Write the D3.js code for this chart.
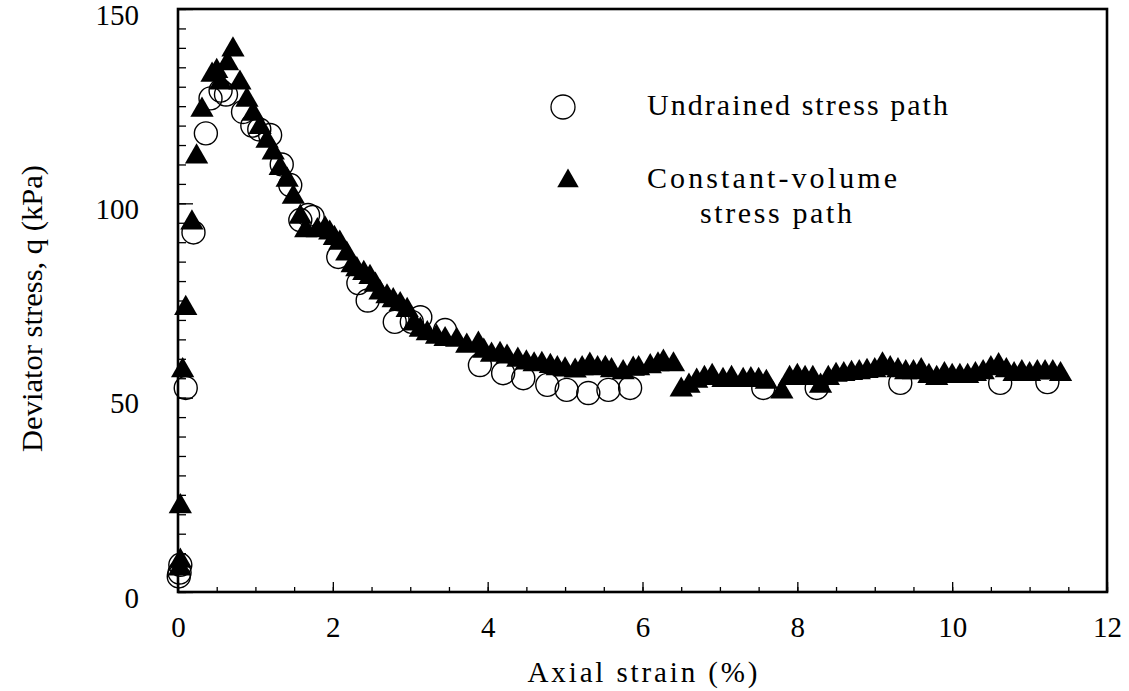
<!DOCTYPE html>
<html>
<head>
<meta charset="utf-8">
<script src="https://cdn.jsdelivr.net/npm/d3@7"></script>
<style>
  html, body { margin: 0; padding: 0; background: #fff; }
  svg { display: block; }
  text { font-family: "Liberation Serif", "Times New Roman", serif; fill: #000; }
</style>
</head>
<body>
<svg id="chart" width="1129" height="691"></svg>
<script>
// Undrained stress path: axial strain (%) and deviator stress q (kPa)
const undrainedStrain = [0.01, 0.02, 0.03, 0.10, 0.20, 0.36, 0.42, 0.55, 0.62, 0.84, 0.96, 1.05, 1.19, 1.34, 1.45,
  1.58, 1.68, 1.74, 2.07, 2.33, 2.45, 2.80, 3.02, 3.13, 3.45, 3.90, 4.20, 4.46, 4.77, 5.02, 5.30, 5.56, 5.84,
  7.56, 8.25, 9.33, 10.62, 11.23];
const undrainedQ = [4, 5, 7, 52.5, 92.5, 118, 127, 129, 128, 123.5, 120, 119, 117.6, 110, 104.7,
  95.7, 97, 96.5, 86.2, 79.5, 75, 69.5, 69.5, 70.7, 67.4, 58.4, 56.3, 55, 53.3, 52, 51.2, 52, 52.5,
  52.5, 52.5, 53.8, 53.8, 54];

// Constant-volume stress path
const constVolStrain = [0.02, 0.03, 0.03, 0.06, 0.10, 0.18, 0.24, 0.31, 0.44, 0.50, 0.55, 0.64, 0.71,
  0.80, 0.89, 0.97, 1.06, 1.15, 1.23, 1.32, 1.41, 1.49, 1.58, 1.65, 1.80, 1.90, 1.96, 2.02, 2.09, 2.18, 2.25,
  2.31, 2.40, 2.48, 2.55, 2.61, 2.70, 2.78, 2.87, 2.96, 3.05, 3.13, 3.22, 3.34, 3.45, 3.60, 3.73, 3.88, 3.95,
  4.05, 4.16, 4.25, 4.39, 4.50, 4.60, 4.70, 4.81, 4.90, 5.00, 5.13, 5.22, 5.32, 5.42, 5.52, 5.60, 5.75, 5.88,
  5.95, 6.10, 6.20, 6.27, 6.40, 6.50, 6.60, 6.70, 6.80, 6.90, 7.04, 7.15, 7.30, 7.40, 7.50, 7.60, 7.80, 7.90,
  8.00, 8.10, 8.20, 8.30, 8.40, 8.50, 8.60, 8.70, 8.80, 8.90, 9.00, 9.10, 9.20, 9.30, 9.40, 9.50, 9.60, 9.70,
  9.80, 9.90, 10.00, 10.10, 10.20, 10.30, 10.40, 10.50, 10.60, 10.70, 10.80, 10.90, 11.00, 11.10, 11.20, 11.30, 11.40];
const constVolQ = [6, 8, 22, 57, 73, 95, 112, 124, 133, 134, 131, 136, 139.5,
  131, 126.6, 123, 119.6, 116, 113, 109, 106, 101.6, 96.5, 93, 93, 93.5, 92.4, 91, 89.8, 87, 84,
  83, 82, 81, 79, 77, 76, 75, 74, 72.5, 69, 67.4, 66.5, 65.6, 65, 64.8, 63.3, 63.8, 62,
  61, 61.2, 60.5, 59.7, 59, 58.5, 58.6, 58.1, 57.5, 57.2, 56.9, 57.5, 58.4, 57.5, 57.6, 57, 56.5, 57.4,
  57.5, 58, 58.5, 59.2, 58.5, 52, 53, 54.3, 55, 55.5, 54.5, 55, 54.5, 54.7, 54.5, 54, 51.5, 55,
  55.5, 55, 55, 53, 55, 55.8, 56, 56.3, 56.5, 56.8, 57, 58.5, 57.5, 57, 56.5, 56.5, 57, 55.5,
  55, 56, 55.5, 55.5, 55.5, 56, 56.5, 57.5, 58.3, 57, 56, 56.5, 56, 56.5, 56.5, 56.5, 56];

const xTickValues = [0, 2, 4, 6, 8, 10, 12];
const yTickValues = [0, 50, 100, 150];
const xTitle = "Axial strain (%)";
const yTitle = "Deviator stress, q (kPa)";
const legendLabels = ["Undrained stress path", "Constant-volume", "stress path"];

const svg = d3.select("#chart");

const x = d3.scaleLinear().domain([0, 12]).range([178, 1107]);
const y = d3.scaleLinear().domain([0, 150]).range([592, 9]);

const ink = "#000";

// Minor ticks (inward)
svg.append("g")
  .attr("transform", `translate(0,${y(0)})`)
  .call(d3.axisBottom(x).tickValues(d3.range(0, 12.01, 0.5)).tickSizeInner(-5).tickSizeOuter(0).tickFormat(""))
  .call(g => g.select(".domain").remove())
  .call(g => g.selectAll("line").attr("stroke", ink).attr("stroke-width", 1.3));
svg.append("g")
  .attr("transform", `translate(${x(0)},0)`)
  .call(d3.axisLeft(y).tickValues(d3.range(0, 150.01, 5)).tickSizeInner(-8).tickSizeOuter(0).tickFormat(""))
  .call(g => g.select(".domain").remove())
  .call(g => g.selectAll("line").attr("stroke", ink).attr("stroke-width", 1.3));

// Major ticks and labels
svg.append("g")
  .attr("transform", `translate(0,${y(0)})`)
  .call(d3.axisBottom(x).tickValues(xTickValues).tickSizeInner(-10).tickSizeOuter(0).tickPadding(24))
  .call(g => g.select(".domain").remove())
  .call(g => g.selectAll("line").attr("stroke", ink).attr("stroke-width", 1.3))
  .call(g => g.selectAll("text").attr("font-size", 29).attr("font-family", "Liberation Serif").attr("fill", ink));
svg.append("g")
  .attr("transform", `translate(${x(0)},0)`)
  .call(d3.axisLeft(y).tickValues(yTickValues).tickSizeInner(-15).tickSizeOuter(0).tickPadding(39))
  .call(g => g.select(".domain").remove())
  .call(g => g.selectAll("line").attr("stroke", ink).attr("stroke-width", 1.3))
  .call(g => g.selectAll("text").attr("font-size", 29).attr("font-family", "Liberation Serif")
    .attr("fill", ink).attr("dy", "0.52em"));

// Frame
svg.append("rect")
  .attr("x", x(0)).attr("y", y(150))
  .attr("width", x(12) - x(0)).attr("height", y(0) - y(150))
  .attr("fill", "none").attr("stroke", ink).attr("stroke-width", 2.6);

// Axis titles
svg.append("text")
  .attr("x", (x(0) + x(12)) / 2).attr("y", 682)
  .attr("text-anchor", "middle").attr("font-size", 29)
  .attr("textLength", 230).attr("lengthAdjust", "spacing")
  .text(xTitle);
svg.append("text")
  .attr("transform", `translate(42,${(y(0) + y(150)) / 2 + 8}) rotate(-90)`)
  .attr("text-anchor", "middle").attr("font-size", 29)
  .attr("textLength", 287).attr("lengthAdjust", "spacingAndGlyphs")
  .text(yTitle);

// Data: circles first, triangles drawn over them
const undrained = undrainedStrain.map((s, i) => ({ s, q: undrainedQ[i] }));
const constVol = constVolStrain.map((s, i) => ({ s, q: constVolQ[i] }));

svg.append("g").selectAll("circle")
  .data(undrained).join("circle")
  .attr("cx", d => x(d.s)).attr("cy", d => y(d.q))
  .attr("r", 11.5)
  .attr("fill", "none").attr("stroke", ink).attr("stroke-width", 1.4);

const tri = d3.symbol().type(d3.symbolTriangle).size(235);
svg.append("g").selectAll("path")
  .data(constVol).join("path")
  .attr("transform", d => `translate(${x(d.s)},${y(d.q)})`)
  .attr("d", tri)
  .attr("fill", ink);

// Legend
svg.append("circle").attr("cx", 563).attr("cy", 107).attr("r", 12)
  .attr("fill", "none").attr("stroke", ink).attr("stroke-width", 1.3);
svg.append("path").attr("transform", "translate(568,181)")
  .attr("d", d3.symbol().type(d3.symbolTriangle).size(200)).attr("fill", ink);

svg.append("text").attr("x", 647).attr("y", 115).attr("font-size", 30)
  .attr("textLength", 301).attr("lengthAdjust", "spacing").text(legendLabels[0]);
svg.append("text").attr("x", 647).attr("y", 188).attr("font-size", 30)
  .attr("textLength", 250).attr("lengthAdjust", "spacing").text(legendLabels[1]);
svg.append("text").attr("x", 776).attr("y", 223).attr("font-size", 30).attr("text-anchor", "middle")
  .attr("textLength", 152).attr("lengthAdjust", "spacing").text(legendLabels[2]);
</script>
</body>
</html>
